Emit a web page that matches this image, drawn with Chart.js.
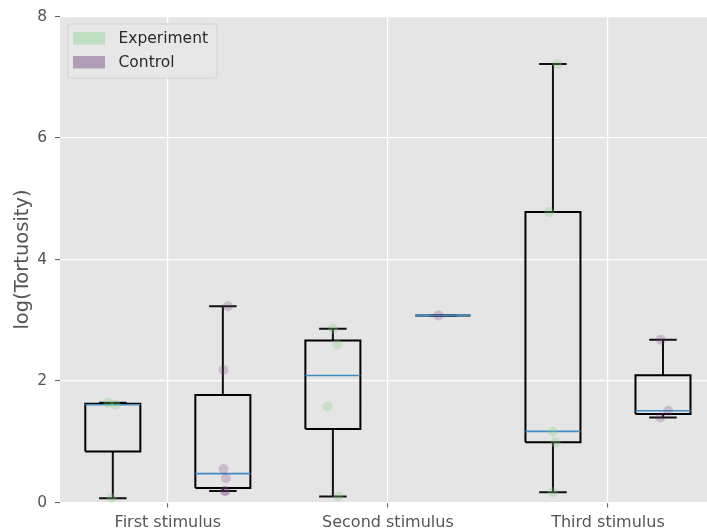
<!DOCTYPE html>
<html><head><meta charset="utf-8">
<script src="https://cdn.jsdelivr.net/npm/chart.js@4.4.1/dist/chart.umd.min.js"></script>
<style>html,body{margin:0;padding:0;background:#fff;overflow:hidden}</style>
</head><body>
<canvas id="c" width="707" height="532"></canvas>
<script>
// ---- data ----
const categories = ['First stimulus', 'Second stimulus', 'Third stimulus'];
const seriesNames = ['Experiment', 'Control'];
const yTicks = [0, 2, 4, 6, 8];

// box statistics (log tortuosity)
const expQ1 = [0.84, 1.21, 0.99];
const expMedian = [1.61, 2.09, 1.17];
const expQ3 = [1.625, 2.665, 4.78];
const expWhiskerLow = [0.07, 0.10, 0.17];
const expWhiskerHigh = [1.64, 2.86, 7.22];

const ctrlQ1 = [0.24, 3.08, 1.455];
const ctrlMedian = [0.475, 3.08, 1.51];
const ctrlQ3 = [1.77, 3.08, 2.095];
const ctrlWhiskerLow = [0.19, 3.08, 1.40];
const ctrlWhiskerHigh = [3.23, 3.08, 2.68];

// individual observations and their horizontal jitter (category units)
const expPoints = [[0.07, 1.61, 1.64], [0.10, 1.58, 2.60, 2.86], [0.17, 0.99, 1.17, 4.78, 7.22]];
const expJitter = [[-0.006, 0.012, -0.020], [0.024, -0.024, 0.020, 0.001], [-0.001, 0.012, -0.001, -0.017, 0.020]];
const ctrlPoints = [[0.19, 0.19, 0.40, 0.55, 2.18, 3.23], [3.08], [1.40, 1.51, 2.68]];
const ctrlJitter = [[0.012, 0.008, 0.014, 0.003, 0.003, 0.023], [-0.020], [-0.012, 0.024, -0.010]];

// ---- layout / style ----
const GROUP_OFFSET = 0.25, BOX_W = 0.25, CAP_W = 0.125;
const FONT = '"DejaVu Sans", sans-serif';
const EXP_PATCH = '#bfe0c0', CTRL_PATCH = '#b29db9';
const EXP_DOT = 'rgba(130,210,130,0.30)', CTRL_DOT = 'rgba(120,60,130,0.24)';

function boxPath(off, q1, q3) {
  const d = [];
  q1.forEach((_, i) => {
    const x = i + off;
    d.push({x: x - BOX_W/2, y: q1[i]}, {x: x + BOX_W/2, y: q1[i]}, {x: x + BOX_W/2, y: q3[i]},
           {x: x - BOX_W/2, y: q3[i]}, {x: x - BOX_W/2, y: q1[i]}, {x: x, y: null});
  });
  return d;
}
function whiskerPath(off, q1, q3, lo, hi) {
  const d = [];
  q1.forEach((_, i) => {
    const x = i + off;
    d.push({x: x, y: q1[i]}, {x: x, y: lo[i]}, {x: x, y: null},
           {x: x - CAP_W/2, y: lo[i]}, {x: x + CAP_W/2, y: lo[i]}, {x: x, y: null},
           {x: x, y: q3[i]}, {x: x, y: hi[i]}, {x: x, y: null},
           {x: x - CAP_W/2, y: hi[i]}, {x: x + CAP_W/2, y: hi[i]}, {x: x, y: null});
  });
  return d;
}
function medianPath(off, med) {
  const d = [];
  med.forEach((m, i) => {
    const x = i + off;
    d.push({x: x - BOX_W/2, y: m}, {x: x + BOX_W/2, y: m}, {x: x, y: null});
  });
  return d;
}
function pointData(off, pts, jit) {
  const d = [];
  pts.forEach((arr, i) => arr.forEach((v, k) => d.push({x: i + off + jit[i][k], y: v})));
  return d;
}
const lineDS = (data, color, order, w) => ({
  type: 'line', data, borderColor: color, borderWidth: w, pointRadius: 0,
  fill: false, tension: 0, spanGaps: false, order
});

const datasets = [
  {type: 'scatter', label: seriesNames[0], data: pointData(-GROUP_OFFSET, expPoints, expJitter),
   backgroundColor: EXP_DOT, borderWidth: 0, pointRadius: 5, order: 0},
  {type: 'scatter', label: seriesNames[1], data: pointData(GROUP_OFFSET, ctrlPoints, ctrlJitter),
   backgroundColor: CTRL_DOT, borderWidth: 0, pointRadius: 5, order: 0},
  lineDS(medianPath(-GROUP_OFFSET, expMedian), '#3f8cc4', 1, 1.6),
  lineDS(medianPath(GROUP_OFFSET, ctrlMedian), '#3f8cc4', 1, 1.6),
  lineDS(boxPath(-GROUP_OFFSET, expQ1, expQ3), '#000', 2, 2),
  lineDS(boxPath(GROUP_OFFSET, ctrlQ1, ctrlQ3), '#000', 2, 2),
  lineDS(whiskerPath(-GROUP_OFFSET, expQ1, expQ3, expWhiskerLow, expWhiskerHigh), '#111', 2, 2),
  lineDS(whiskerPath(GROUP_OFFSET, ctrlQ1, ctrlQ3, ctrlWhiskerLow, ctrlWhiskerHigh), '#111', 2, 2),
];

const bgPlugin = {
  id: 'bg',
  beforeDraw(chart) {
    const {ctx, chartArea: a} = chart;
    ctx.save(); ctx.fillStyle = '#e5e5e5';
    ctx.fillRect(a.left, a.top, a.right - a.left, a.bottom - a.top);
    ctx.restore();
  }
};
const legendPlugin = {
  id: 'mplLegend',
  afterDraw(chart) {
    const {ctx, chartArea: a} = chart;
    const x0 = a.left + 7.5, y0 = a.top + 7, w = 149, h = 54;
    ctx.save();
    ctx.beginPath();
    ctx.roundRect(x0 + 0.5, y0 + 0.5, w, h, 3);
    ctx.fillStyle = '#e7e7e7'; ctx.fill();
    ctx.strokeStyle = '#d2d2d2'; ctx.lineWidth = 1; ctx.stroke();
    const colors = [EXP_PATCH, CTRL_PATCH];
    ctx.font = '15.5px ' + FONT; ctx.textBaseline = 'middle';
    seriesNames.forEach((name, i) => {
      const cy = y0 + 14.5 + i * 24;
      ctx.fillStyle = colors[i];
      ctx.fillRect(x0 + 5.5, cy - 6, 32, 12.5);
      ctx.fillStyle = '#2a2a2a';
      ctx.fillText(name, x0 + 51, cy + 0.5);
    });
    ctx.restore();
  }
};

new Chart(document.getElementById('c'), {
  data: {datasets},
  plugins: [bgPlugin, legendPlugin],
  options: {
    responsive: false, animation: false, devicePixelRatio: 1,
    layout: {autoPadding: false, padding: {top: 16.5, right: 0, bottom: 0, left: 0}},
    plugins: {legend: {display: false}, tooltip: {enabled: false}},
    scales: {
      x: {
        type: 'linear', min: -0.49, max: 2.45,
        afterBuildTicks: s => { s.ticks = categories.map((_, i) => ({value: i})); },
        afterFit: s => { s.height = 29.5; s.paddingLeft = 0; s.paddingRight = 0; },
        border: {display: false},
        grid: {color: '#ffffff', lineWidth: 1.2, tickColor: '#555', tickLength: 5, tickWidth: 1},
        ticks: {color: '#555', font: {family: FONT, size: 16}, padding: 5.5,
                callback: v => categories[v], maxRotation: 0, autoSkip: false}
      },
      y: {
        type: 'linear', min: yTicks[0], max: yTicks[yTicks.length - 1],
        afterBuildTicks: s => { s.ticks = yTicks.map(v => ({value: v})); },
        afterFit: s => { s.width = 60; s.paddingTop = 0; s.paddingBottom = 0; },
        border: {display: false},
        grid: {color: '#ffffff', lineWidth: 1.2, tickColor: '#555', tickLength: 5, tickWidth: 1},
        ticks: {color: '#555', font: {family: FONT, size: 15.5}, padding: 8},
        title: {display: true, text: 'log(Tortuosity)', color: '#555',
                font: {family: FONT, size: 19.5}, padding: {top: 11.5, bottom: 0}}
      }
    }
  }
});
</script>
</body></html>
